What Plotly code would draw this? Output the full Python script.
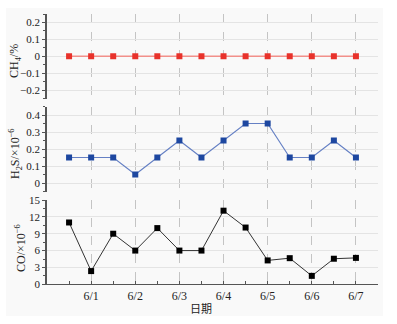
import plotly.graph_objects as go

# Sampling times in days (half-day steps), ticks label the calendar dates
days = [0.5, 1, 1.5, 2, 2.5, 3, 3.5, 4, 4.5, 5, 5.5, 6, 6.5, 7]
date_ticks = [1, 2, 3, 4, 5, 6, 7]
date_labels = ["6/1", "6/2", "6/3", "6/4", "6/5", "6/6", "6/7"]

ch4 = [0, 0, 0, 0, 0, 0, 0, 0, 0, 0, 0, 0, 0, 0]
h2s = [0.15, 0.15, 0.15, 0.05, 0.15, 0.25, 0.15, 0.25, 0.35, 0.35, 0.15, 0.15, 0.25, 0.15]
co = [11, 2.35, 9, 6, 10, 6, 6, 13.1, 10.1, 4.25, 4.65, 1.5, 4.55, 4.7]

W, H = 397, 324
FONT = "Liberation Serif, Times New Roman, serif"
TXT = "#222222"


def py(px):
    return 1 - px / H


x_dom = [47 / W, 378 / W]
dom1 = [py(98.5), py(14)]
dom2 = [py(191.5), py(106.5)]
dom3 = [py(284.3), py(200)]

fig = go.Figure()

fig.add_trace(go.Scatter(
    x=days, y=ch4, xaxis="x", yaxis="y", mode="lines+markers",
    line=dict(color="#f2908a", width=1.6),
    marker=dict(symbol="square", size=6, color="#e8322b"),
    cliponaxis=False, showlegend=False))
fig.add_trace(go.Scatter(
    x=days, y=h2s, xaxis="x2", yaxis="y2", mode="lines+markers",
    line=dict(color="#6580c4", width=1.2),
    marker=dict(symbol="square", size=6, color="#1d47a0"),
    cliponaxis=False, showlegend=False))
fig.add_trace(go.Scatter(
    x=days, y=co, xaxis="x3", yaxis="y3", mode="lines+markers",
    line=dict(color="#333333", width=1),
    marker=dict(symbol="square", size=6, color="#000000"),
    cliponaxis=False, showlegend=False))

xcommon = dict(
    domain=x_dom, range=[0, 7.5], tickvals=date_ticks, ticktext=date_labels,
    showgrid=True, gridcolor="#c4c4c4", griddash="dash", gridwidth=1,
    zeroline=False, fixedrange=True,
)
yfont = dict(family=FONT, size=11, color=TXT)

layout = dict(
    width=W, height=H, margin=dict(l=0, r=0, t=0, b=0, autoexpand=False),
    paper_bgcolor="white", plot_bgcolor="rgba(0,0,0,0)",
    xaxis=dict(**xcommon, anchor="y", showticklabels=False, showline=False, ticks=""),
    xaxis2=dict(**xcommon, anchor="y2", showticklabels=False, showline=False, ticks=""),
    xaxis3=dict(**xcommon, anchor="y3", showticklabels=True, showline=True,
                linecolor="#555555", linewidth=1, ticks="inside", ticklen=3,
                tickcolor="#555555",
                minor=dict(dtick=0.5, tick0=0, ticks="inside", ticklen=3,
                           tickcolor="#555555", showgrid=False),
                tickfont=dict(family=FONT, size=12, color=TXT)),
)

ycommon = dict(
    showline=True, linecolor="#555555", linewidth=1.5, ticks="outside",
    ticklen=3, tickcolor="#555555", showgrid=True, gridcolor="#e4e4e4",
    gridwidth=1, zeroline=False, tickfont=yfont, fixedrange=True,
    automargin=False,
)
layout["yaxis"] = dict(**ycommon, domain=dom1, anchor="x", range=[-0.25, 0.25],
                       tickvals=[-0.2, -0.1, 0, 0.1, 0.2],
                       minor=dict(dtick=0.05, ticks="outside", ticklen=2,
                                  tickcolor="#555555", showgrid=False))
layout["yaxis2"] = dict(**ycommon, domain=dom2, anchor="x2", range=[-0.05, 0.45],
                        tickvals=[0, 0.1, 0.2, 0.3, 0.4],
                        minor=dict(dtick=0.05, ticks="outside", ticklen=2,
                                   tickcolor="#555555", showgrid=False))
layout["yaxis3"] = dict(**ycommon, domain=dom3, anchor="x3", range=[0, 15],
                        tickvals=[0, 3, 6, 9, 12, 15],
                        minor=dict(dtick=1.5, ticks="outside", ticklen=2,
                                   tickcolor="#555555", showgrid=False))

fig.update_layout(**layout)

# light panel behind the whole chart
fig.add_shape(type="rect", xref="paper", yref="paper",
              x0=6 / W, x1=383 / W, y0=py(316), y1=py(8),
              fillcolor="#f9f9f9", line=dict(width=0), layer="below")

ann_font = dict(family=FONT, size=12, color=TXT)
titles = [
    ("CH<sub>4</sub>/%", 15, 61),
    ("H<sub>2</sub>S/×10<sup>−6</sup>", 15, 154),
    ("CO/×10<sup>−6</sup>", 20, 248),
]
for text, xpx, ypx in titles:
    fig.add_annotation(text=text, xref="paper", yref="paper",
                       x=xpx / W, y=py(ypx), xanchor="center", yanchor="middle",
                       textangle=-90, showarrow=False, font=ann_font)
fig.add_annotation(text="日期", xref="paper", yref="paper",
                   x=201 / W, y=py(308), xanchor="center", yanchor="middle",
                   showarrow=False,
                   font=dict(family="Noto Sans CJK SC, sans-serif", size=11, color=TXT))

fig.write_html("out.html")
